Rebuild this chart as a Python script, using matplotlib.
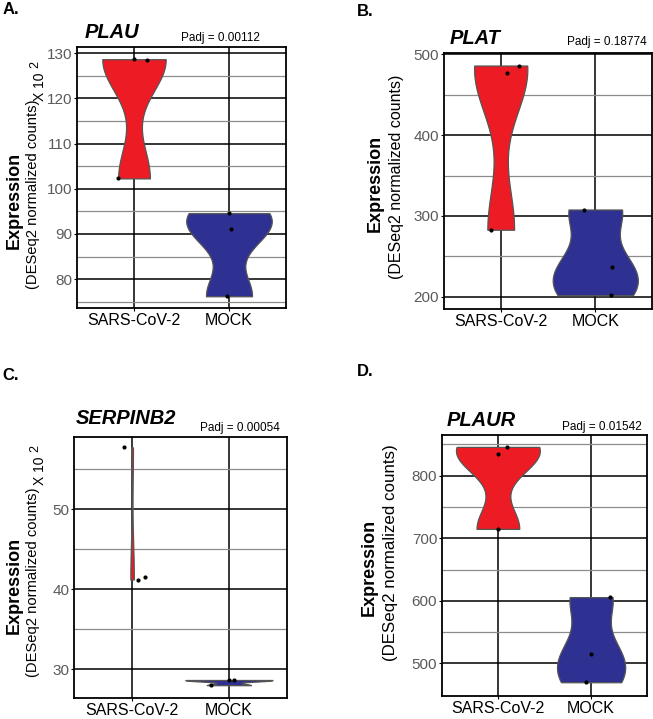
import numpy as np
import matplotlib
matplotlib.use("Agg")
import matplotlib.pyplot as plt

plt.rcParams["font.family"] = ["Liberation Sans", "DejaVu Sans"]

W, H = 653, 719

GROUPS = ["SARS-CoV-2", "MOCK"]

# expression values (3 replicates per group)
PLAU_SARS = [128.7, 128.5, 102.3]
PLAU_MOCK = [94.6, 91.1, 76.2]
PLAT_SARS = [486, 477, 283]
PLAT_MOCK = [308, 237, 202]
SERPINB2_SARS = [57.7, 41.2, 41.5]
SERPINB2_MOCK = [28.0, 28.6, 28.65]
PLAUR_SARS = [846, 834, 715]
PLAUR_MOCK = [606, 515, 470]

PADJ = ["0.00112", "0.18774", "0.00054", "0.01542"]
GENES = ["PLAU", "PLAT", "SERPINB2", "PLAUR"]

# horizontal jitter of the points, as drawn
JIT_PLAU = [[0.0, 0.14, -0.17], [0.0, 0.02, -0.02]]
JIT_PLAT = [[0.19, 0.07, -0.10], [-0.12, 0.18, 0.17]]
JIT_SERPINB2 = [[-0.08, 0.056, 0.13], [-0.18, 0.0, 0.05]]
JIT_PLAUR = [[0.10, 0.0, 0.0], [0.20, 0.0, -0.06]]

RED = "#ED1C24"
BLUE = "#2E3192"


def px_axes(fig, left, right, top, bottom):
    return fig.add_axes([left / W, 1 - bottom / H, (right - left) / W, (bottom - top) / H])


def nrd0(x):
    x = np.asarray(x, float)
    sd = x.std(ddof=1)
    iqr = np.subtract(*np.percentile(x, [75, 25]))
    return 0.9 * min(sd, iqr / 1.34) * len(x) ** -0.2


def density(x, grid):
    x = np.asarray(x, float)
    bw = nrd0(x)
    z = (grid[:, None] - x[None, :]) / bw
    return np.exp(-0.5 * z ** 2).sum(axis=1) / (len(x) * bw * np.sqrt(2 * np.pi))


def violin_panel(ax, sets, jitters, ylim, major, minor):
    grids, dens = [], []
    for vals in sets:
        g = np.linspace(min(vals), max(vals), 512)
        grids.append(g)
        dens.append(density(vals, g))
    scale = 0.45 / max(d.max() for d in dens)  # ggplot scale="area"
    for i, (g, d, vals, jit, col) in enumerate(zip(grids, dens, sets, jitters, [RED, BLUE])):
        ax.fill_betweenx(g, i - d * scale, i + d * scale, facecolor=col,
                         edgecolor="#555555", linewidth=0.9, zorder=3)
        ax.scatter(np.array(jit) + i, vals, s=9, color="black", zorder=4, linewidths=0)

    ax.set_xlim(-0.6, 1.6)
    ax.set_ylim(*ylim)
    ax.set_xticks([0, 1])
    ax.set_xticklabels(GROUPS, fontsize=11.5)
    ax.set_yticks(major)
    ax.set_yticks(minor, minor=True)
    ax.tick_params(axis="y", which="major", labelsize=11, labelcolor="#5a5a5a",
                   length=2, pad=1.5)
    ax.tick_params(axis="y", which="minor", length=0)
    ax.tick_params(axis="x", length=2, pad=1.5)
    ax.set_axisbelow(True)
    ax.grid(True, which="major", color="black", linewidth=1.1)
    ax.grid(True, which="minor", axis="y", color="#8c8c8c", linewidth=0.9)
    for s in ax.spines.values():
        s.set_linewidth(1.3)


def ftext(fig, x, y, s, **kw):
    fig.text(x / W, 1 - y / H, s, **kw)


fig = plt.figure(figsize=(W / 100, H / 100), dpi=100)

ax_a = px_axes(fig, 77, 286, 47, 308)
violin_panel(ax_a, [PLAU_SARS, PLAU_MOCK], JIT_PLAU, (73.6, 131.4),
             np.arange(80, 131, 10), np.arange(75, 130, 10))
ax_b = px_axes(fig, 444, 652, 53, 309)
violin_panel(ax_b, [PLAT_SARS, PLAT_MOCK], JIT_PLAT, (185, 501.5),
             [200, 300, 400, 500], [250, 350, 450])
ax_c = px_axes(fig, 74, 287, 437, 698)
violin_panel(ax_c, [SERPINB2_SARS, SERPINB2_MOCK], JIT_SERPINB2, (26.4, 59.0),
             [30, 40, 50], [35, 45, 55])
ax_d = px_axes(fig, 442, 647, 435, 696)
violin_panel(ax_d, [PLAUR_SARS, PLAUR_MOCK], JIT_PLAUR, (448, 865),
             [500, 600, 700, 800], [550, 650, 750, 850])

# panel letters
for lab, x, y in [("A.", 3, 9), ("B.", 357, 12), ("C.", 2, 375), ("D.", 357, 371)]:
    ftext(fig, x, y, lab, fontsize=12, fontweight="bold", ha="left", va="center")

# gene titles and adjusted p-values
title_pos = [(85, 32), (450, 38), (76, 418), (447, 420)]
padj_pos = [(220, 38), (607, 42), (239.5, 427.7), (601.5, 426.7)]
for gene, p, (tx, ty), (px, py) in zip(GENES, PADJ, title_pos, padj_pos):
    ftext(fig, tx, ty, gene, fontsize=14.5, fontweight="bold", style="italic",
          ha="left", va="center")
    ftext(fig, px, py, f"Padj = {p}", fontsize=8.5, ha="center", va="center")

# y labels: Expression, (DESeq2 ...) line, optional "X 10^2" scale note
ylabels = [
    ((14.5, 200), (33, 194, 10.6), (40, 87, 35, 65)),
    ((375.5, 183.5), (396.7, 176.5, 11.5), None),
    ((14, 585), (33, 582, 10.6), (40, 471, 35, 449)),
    ((369.5, 567.5), (390.5, 552.5, 12.2), None),
]
for (ex, ey), (dx, dy, dfs), scl in ylabels:
    ftext(fig, ex, ey, "Expression", fontsize=13, fontweight="bold",
          rotation=90, ha="center", va="center")
    ftext(fig, dx, dy, "(DESeq2 normalized counts)", fontsize=dfs,
          rotation=90, ha="center", va="center")
    if scl:
        sx, sy, qx, qy = scl
        ftext(fig, sx, sy, "X 10", fontsize=10, rotation=90, ha="center", va="center")
        ftext(fig, qx, qy, "2", fontsize=9, rotation=90, ha="center", va="center")

fig.savefig("out.png", dpi=100)
